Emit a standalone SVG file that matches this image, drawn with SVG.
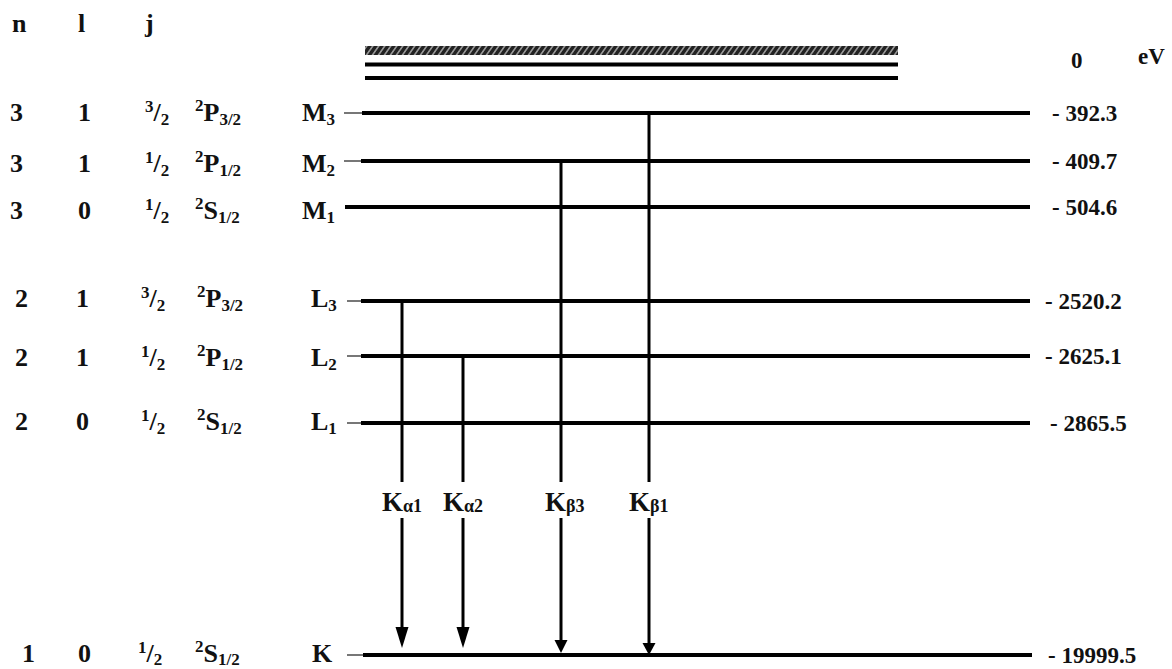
<svg xmlns="http://www.w3.org/2000/svg" width="1172" height="669" viewBox="0 0 1172 669">
<style>
text{font-family:"Liberation Serif","Times New Roman",serif;font-weight:bold;fill:#111}
.l{font-size:26px}
.v{font-size:23px}
.s{font-size:17px}
.k{font-size:27px}
.ks{font-size:18px}
.lvl{stroke:#000;stroke-width:4;fill:none}
.lead{stroke:#555;stroke-width:1.6;fill:none}
.tr{stroke:#000;stroke-width:3;fill:none}
.ah{fill:#000}
</style>
<defs>
<pattern id="hatch" width="6" height="8" patternUnits="userSpaceOnUse" patternTransform="skewX(-35)">
<rect width="6" height="8" fill="#222"/>
<line x1="3" y1="0" x2="3" y2="8" stroke="#c8c8c8" stroke-width="1.4"/>
</pattern>
</defs>
<rect width="1172" height="669" fill="#fff"/>

<g id="header">
<text class="l" x="12" y="32">n</text>
<text class="l" x="78" y="32">l</text>
<text class="l" x="145" y="32">j</text>
<text class="v" x="1071" y="68">0</text>
<text class="v" x="1138" y="64">eV</text>
</g>

<g id="continuum">
<rect x="365" y="46" width="533" height="9" fill="url(#hatch)"/>
<line class="lvl" x1="365" y1="64.5" x2="898" y2="64.5"/>
<line class="lvl" x1="365" y1="78" x2="898" y2="78"/>
</g>

<g id="M3">
<text class="l" x="10" y="121">3</text>
<text class="l" x="78" y="121">1</text>
<text class="l" x="145" y="121"><tspan class="s" dy="-9">3</tspan><tspan dy="9">/</tspan><tspan class="s" dy="4">2</tspan></text>
<text class="l" x="195" y="121"><tspan class="s" dy="-10">2</tspan><tspan dy="10">P</tspan><tspan class="s" dy="4">3/2</tspan></text>
<text class="l" x="302" y="121">M<tspan class="s" dy="4">3</tspan></text>
<line class="lead" x1="344" y1="113" x2="362" y2="113"/>
<line class="lvl" x1="362" y1="113" x2="1030" y2="113"/>
<text class="v" x="1052" y="121">- 392.3</text>
</g>

<g id="M2">
<text class="l" x="10" y="172">3</text>
<text class="l" x="78" y="172">1</text>
<text class="l" x="145" y="172"><tspan class="s" dy="-9">1</tspan><tspan dy="9">/</tspan><tspan class="s" dy="4">2</tspan></text>
<text class="l" x="195" y="172"><tspan class="s" dy="-10">2</tspan><tspan dy="10">P</tspan><tspan class="s" dy="4">1/2</tspan></text>
<text class="l" x="302" y="172">M<tspan class="s" dy="4">2</tspan></text>
<line class="lead" x1="344" y1="161" x2="361" y2="161"/>
<line class="lvl" x1="361" y1="161" x2="1030" y2="161"/>
<text class="v" x="1052" y="169">- 409.7</text>
</g>

<g id="M1">
<text class="l" x="10" y="219">3</text>
<text class="l" x="78" y="219">0</text>
<text class="l" x="145" y="219"><tspan class="s" dy="-9">1</tspan><tspan dy="9">/</tspan><tspan class="s" dy="4">2</tspan></text>
<text class="l" x="195" y="219"><tspan class="s" dy="-10">2</tspan><tspan dy="10">S</tspan><tspan class="s" dy="4">1/2</tspan></text>
<text class="l" x="302" y="219">M<tspan class="s" dy="4">1</tspan></text>
<line class="lvl" x1="345" y1="207" x2="1030" y2="207"/>
<text class="v" x="1052" y="215">- 504.6</text>
</g>

<g id="L3">
<text class="l" x="15" y="307">2</text>
<text class="l" x="76" y="307">1</text>
<text class="l" x="141" y="307"><tspan class="s" dy="-9">3</tspan><tspan dy="9">/</tspan><tspan class="s" dy="4">2</tspan></text>
<text class="l" x="197" y="307"><tspan class="s" dy="-10">2</tspan><tspan dy="10">P</tspan><tspan class="s" dy="4">3/2</tspan></text>
<text class="l" x="311" y="307">L<tspan class="s" dy="4">3</tspan></text>
<line class="lead" x1="347" y1="301" x2="361" y2="301"/>
<line class="lvl" x1="361" y1="301" x2="1030" y2="301"/>
<text class="v" x="1045" y="309">- 2520.2</text>
</g>

<g id="L2">
<text class="l" x="15" y="366">2</text>
<text class="l" x="76" y="366">1</text>
<text class="l" x="141" y="366"><tspan class="s" dy="-9">1</tspan><tspan dy="9">/</tspan><tspan class="s" dy="4">2</tspan></text>
<text class="l" x="197" y="366"><tspan class="s" dy="-10">2</tspan><tspan dy="10">P</tspan><tspan class="s" dy="4">1/2</tspan></text>
<text class="l" x="311" y="366">L<tspan class="s" dy="4">2</tspan></text>
<line class="lead" x1="347" y1="356" x2="361" y2="356"/>
<line class="lvl" x1="361" y1="356" x2="1030" y2="356"/>
<text class="v" x="1045" y="364">- 2625.1</text>
</g>

<g id="L1">
<text class="l" x="15" y="430">2</text>
<text class="l" x="76" y="430">0</text>
<text class="l" x="141" y="430"><tspan class="s" dy="-9">1</tspan><tspan dy="9">/</tspan><tspan class="s" dy="4">2</tspan></text>
<text class="l" x="197" y="430"><tspan class="s" dy="-10">2</tspan><tspan dy="10">S</tspan><tspan class="s" dy="4">1/2</tspan></text>
<text class="l" x="311" y="430">L<tspan class="s" dy="4">1</tspan></text>
<line class="lead" x1="347" y1="423" x2="361" y2="423"/>
<line class="lvl" x1="361" y1="423" x2="1030" y2="423"/>
<text class="v" x="1050" y="431">- 2865.5</text>
</g>

<g id="K">
<text class="l" x="22" y="662">1</text>
<text class="l" x="78" y="662">0</text>
<text class="l" x="138" y="662"><tspan class="s" dy="-9">1</tspan><tspan dy="9">/</tspan><tspan class="s" dy="3">2</tspan></text>
<text class="l" x="195" y="662"><tspan class="s" dy="-10">2</tspan><tspan dy="10">S</tspan><tspan class="s" dy="3">1/2</tspan></text>
<text class="l" x="312" y="662">K</text>
<line class="lead" x1="347" y1="655" x2="363" y2="655"/>
<line class="lvl" x1="363" y1="655" x2="1032" y2="655"/>
<text class="v" x="1048" y="663">- 19999.5</text>
</g>

<g id="transitions">
<line class="tr" x1="402" y1="301" x2="402" y2="482"/>
<line class="tr" x1="402" y1="518" x2="402" y2="630"/>
<polygon class="ah" points="395.5,627 408.5,627 402,648"/>
<line class="tr" x1="463" y1="356" x2="463" y2="482"/>
<line class="tr" x1="463" y1="518" x2="463" y2="630"/>
<polygon class="ah" points="456.5,627 469.5,627 463,648"/>
<line class="tr" x1="561" y1="161" x2="561" y2="482"/>
<line class="tr" x1="561" y1="518" x2="561" y2="642"/>
<polygon class="ah" points="554.5,640 567.5,640 561,653"/>
<line class="tr" x1="649" y1="113" x2="649" y2="482"/>
<line class="tr" x1="649" y1="518" x2="649" y2="645"/>
<polygon class="ah" points="642.5,643 655.5,643 649,655"/>
</g>

<g id="labels">
<text class="k" x="382" y="511">K<tspan class="ks" dy="1">α1</tspan></text>
<text class="k" x="443" y="511">K<tspan class="ks" dy="1">α2</tspan></text>
<text class="k" x="545" y="511">K<tspan class="ks" dy="1">β3</tspan></text>
<text class="k" x="629" y="511">K<tspan class="ks" dy="1">β1</tspan></text>
</g>
</svg>
